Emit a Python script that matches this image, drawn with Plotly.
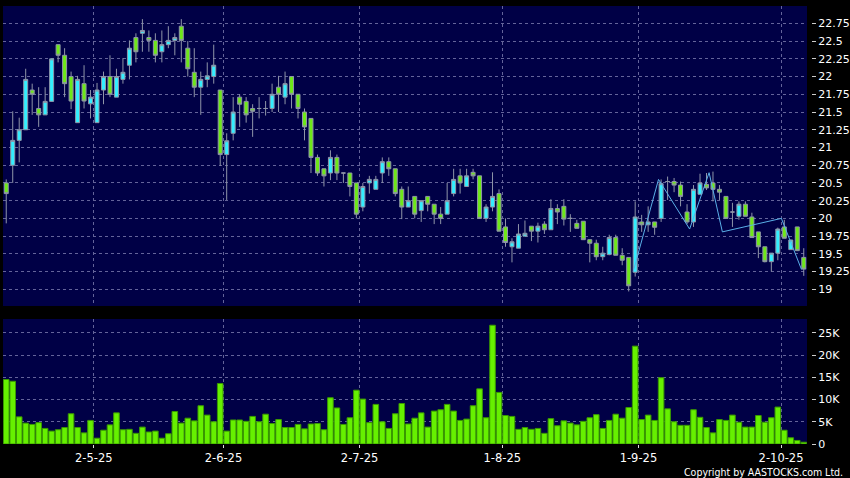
import plotly.graph_objects as go

# ---- data ----
opens = [20.50, 20.75, 21.10, 21.25, 21.81, 21.55, 21.46, 21.65, 22.45, 22.30,
         22.00, 21.35, 21.90, 21.615, 21.35, 21.81, 22.00, 21.71, 21.96, 22.16,
         22.55, 22.61, 22.55, 22.51, 22.35, 22.45, 22.51, 22.71, 22.40, 22.06,
         21.85, 21.96, 22.00, 21.81, 20.90, 21.20, 21.71, 21.65, 21.55, 21.55,
         21.55, 21.55, 21.85, 21.71, 22.00, 21.75, 21.50, 21.41, 20.86, 20.70,
         20.64, 20.86, 20.64, 20.64, 20.50, 20.16, 20.50, 20.41, 20.64, 20.80,
         20.70, 20.41, 20.16, 20.31, 20.11, 20.31, 20.20, 20.06, 20.06, 20.35,
         20.60, 20.45, 20.65, 20.60, 20.00, 20.16, 20.35, 19.88, 19.60, 19.58,
         19.75, 19.89, 19.82, 19.92, 19.84, 20.14, 20.17, 20.00, 19.93, 19.96,
         19.70, 19.65, 19.46, 19.49, 19.73, 19.48, 19.45, 19.24, 19.95, 19.91,
         19.95, 20.00, 20.52, 20.52, 20.47, 20.09, 19.95, 20.34, 20.48, 20.50,
         20.41, 20.31, 20.09, 20.03, 20.20, 20.02, 19.81, 19.60, 19.39, 19.51,
         19.88, 19.56, 19.88, 19.45]
highs = [20.55, 21.51, 21.42, 22.11, 21.90, 21.85, 21.85, 22.25, 22.45, 22.40,
         22.07, 22.01, 22.16, 21.81, 21.91, 22.07, 22.30, 22.11, 22.26, 22.51,
         22.61, 22.81, 22.65, 22.61, 22.65, 22.71, 22.61, 22.81, 22.50, 22.40,
         22.07, 22.20, 22.45, 21.81, 21.20, 21.71, 21.75, 21.71, 21.61, 21.71,
         21.655, 21.90, 22.01, 22.07, 22.00, 21.75, 21.55, 21.41, 20.90, 20.70,
         20.96, 20.90, 20.64, 20.64, 20.50, 20.50, 20.60, 20.60, 20.86, 20.86,
         20.70, 20.45, 20.45, 20.31, 20.25, 20.31, 20.20, 20.16, 20.50, 20.70,
         20.70, 20.70, 20.70, 20.60, 20.20, 20.65, 20.41, 20.00, 19.72, 19.92,
         19.97, 19.89, 19.94, 19.96, 20.27, 20.20, 20.27, 20.06, 19.98, 19.96,
         19.70, 19.70, 19.60, 19.77, 19.77, 19.58, 19.45, 20.24, 20.05, 20.17,
         19.95, 20.55, 20.59, 20.57, 20.52, 20.20, 20.47, 20.63, 20.64, 20.66,
         20.47, 20.31, 20.22, 20.24, 20.24, 20.08, 19.81, 19.60, 19.51, 19.87,
         19.98, 19.70, 19.88, 19.58]
lows = [19.93, 20.50, 20.79, 21.25, 21.46, 21.29, 21.46, 21.65, 22.20, 21.71,
        21.54, 21.35, 21.55, 21.41, 21.35, 21.61, 21.71, 21.71, 21.90, 21.96,
        22.20, 22.35, 22.35, 22.20, 22.20, 22.40, 22.30, 22.20, 22.00, 21.71,
        21.46, 21.85, 21.90, 20.74, 20.26, 21.10, 21.29, 21.35, 21.15, 21.41,
        21.45, 21.50, 21.50, 21.61, 21.55, 21.41, 21.10, 20.64, 20.60, 20.45,
        20.54, 20.54, 20.50, 20.31, 20.00, 20.10, 20.35, 20.41, 20.50, 20.60,
        20.31, 19.99, 20.16, 20.00, 19.95, 20.10, 19.92, 19.92, 20.06, 20.31,
        20.35, 20.45, 20.55, 20.00, 19.95, 20.10, 19.82, 19.60, 19.38, 19.58,
        19.75, 19.68, 19.66, 19.78, 19.84, 19.92, 19.90, 19.81, 19.86, 19.70,
        19.38, 19.41, 19.41, 19.48, 19.48, 19.34, 18.97, 19.18, 19.81, 19.81,
        19.77, 19.95, 20.26, 20.37, 20.17, 19.92, 19.88, 20.34, 20.40, 20.24,
        20.26, 20.00, 19.88, 19.98, 20.03, 19.73, 19.44, 19.38, 19.25, 19.41,
        19.72, 19.56, 19.54, 19.19]
closes = [20.35, 21.10, 21.25, 21.96, 21.75, 21.46, 21.65, 22.25, 22.30, 21.90,
          21.655, 21.96, 21.655, 21.71, 21.81, 22.00, 21.75, 22.00, 22.06, 22.40,
          22.35, 22.65, 22.51, 22.30, 22.45, 22.51, 22.55, 22.51, 22.11, 21.85,
          21.96, 22.01, 22.16, 20.90, 21.095, 21.50, 21.61, 21.46, 21.51, 21.55,
          21.55, 21.75, 21.75, 21.90, 21.75, 21.55, 21.29, 20.86, 20.64, 20.60,
          20.86, 20.64, 20.64, 20.45, 20.06, 20.45, 20.55, 20.55, 20.80, 20.70,
          20.35, 20.16, 20.25, 20.06, 20.25, 20.20, 20.06, 20.00, 20.25, 20.55,
          20.50, 20.60, 20.60, 20.00, 20.16, 20.31, 19.82, 19.66, 19.67, 19.78,
          19.79, 19.82, 19.89, 19.84, 20.14, 20.09, 19.99, 20.00, 19.86, 19.70,
          19.65, 19.46, 19.51, 19.73, 19.48, 19.41, 19.05, 20.02, 19.91, 19.95,
          19.875, 20.49, 20.52, 20.47, 20.31, 19.95, 20.41, 20.50, 20.43, 20.41,
          20.37, 20.00, 20.09, 20.20, 20.03, 19.73, 19.60, 19.39, 19.51, 19.85,
          19.72, 19.695, 19.545, 19.285]
volumes = [14500, 14100, 6100, 4700, 4400, 4800, 3500, 2900, 3200, 3700,
           6800, 3700, 2500, 5300, 1300, 3100, 4300, 7000, 3200, 3300,
           2400, 3800, 2700, 2900, 1300, 2300, 7300, 4700, 5800, 5200,
           8600, 6500, 5000, 13600, 2900, 5400, 5400, 5100, 6200, 5000,
           6700, 4600, 5500, 3700, 3700, 4400, 3400, 4500, 4600, 3200,
           10400, 8100, 4400, 5900, 12100, 10100, 4800, 8900, 5000, 3500,
           6800, 9100, 4500, 5800, 7000, 3800, 7400, 7700, 8900, 7400,
           5300, 5600, 8600, 12400, 5900, 26700, 11600, 6400, 6200, 3300,
           3700, 3300, 3500, 2400, 5700, 4100, 5200, 4700, 4300, 5100,
           5900, 6600, 3500, 5300, 6700, 5800, 8200, 22000, 5500, 6500,
           5300, 14900, 7900, 5000, 4200, 4200, 7700, 6000, 3700, 2500,
           5500, 5300, 6500, 4900, 3800, 3800, 6400, 4900, 5900, 8300,
           3100, 1400, 800, 400]

# zig-zag indicator line (fractional bar positions, price)
zz_x = [96.7, 100.6, 105.4, 108.4, 110.45, 119.55, 122.65]
zz_y = [19.25, 20.55, 19.85, 20.645, 19.81, 20.00, 19.28]

# axis ticks
month_first_bar = [14, 34, 55, 77, 98, 120]
month_labels = ['2-5-25', '2-6-25', '2-7-25', '1-8-25', '1-9-25', '2-10-25']
price_ticks = [19, 19.25, 19.5, 19.75, 20, 20.25, 20.5, 20.75,
               21, 21.25, 21.5, 21.75, 22, 22.25, 22.5, 22.75]
vol_ticks = [0, 5000, 10000, 15000, 20000, 25000]
vol_tick_labels = ['0', '5K', '10K', '15K', '20K', '25K']

# ---- styling ----
bars = list(range(len(opens)))
grid_pos = [b - 0.5 for b in month_first_bar]
NAVY = '#000046'
GRID = '#64649a'
FONT = dict(family='DejaVu Sans', size=11, color='#ffffff')
DATE_FONT = dict(family='DejaVu Sans', size=11.5, color='#ffffff')

fig = go.Figure()
fig.add_trace(go.Candlestick(
    x=bars, open=opens, high=highs, low=lows, close=closes,
    increasing=dict(fillcolor='#33eeff', line=dict(color='#8f95a8', width=1)),
    decreasing=dict(fillcolor='#6ee818', line=dict(color='#8f95a8', width=1)),
    whiskerwidth=0, xaxis='x', yaxis='y', showlegend=False, hoverinfo='skip'))
fig.add_trace(go.Scatter(
    x=zz_x, y=zz_y, mode='lines', line=dict(color='#5ab0e8', width=1),
    xaxis='x', yaxis='y', showlegend=False, hoverinfo='skip'))
fig.add_trace(go.Bar(
    x=bars, y=volumes, width=0.86,
    marker=dict(color='#66f000', line=dict(color='#3a9a00', width=1)),
    xaxis='x2', yaxis='y2', showlegend=False, hoverinfo='skip'))

xr = [-0.5, len(opens) - 0.5]
common_x = dict(range=xr, showline=False, zeroline=False,
                showgrid=True, gridcolor=GRID, gridwidth=1, griddash='3px,3px',
                tickmode='array', tickvals=grid_pos)

fig.update_layout(
    width=850, height=478,
    paper_bgcolor='#000000', plot_bgcolor=NAVY,
    margin=dict(l=3, r=43, t=6, b=34, autoexpand=False),
    font=FONT, boxgap=0.12,
    xaxis=dict(**common_x, domain=[0, 1], anchor='y', showticklabels=False,
               ticks='', rangeslider=dict(visible=False)),
    xaxis2=dict(**common_x, domain=[0, 1], anchor='y2', matches='x',
                ticktext=month_labels, ticks='outside', ticklen=3,
                tickcolor='#dddddd', tickfont=DATE_FONT),
    yaxis=dict(domain=[0.3151, 1], range=[18.765, 22.995], side='right',
               anchor='free', position=1, shift=4,
               tickmode='array', tickvals=price_ticks,
               ticktext=[f'{v:g}' for v in price_ticks],
               ticks='outside', ticklen=4, tickcolor='#cccccc',
               showgrid=True, gridcolor=GRID, griddash='3px,3px',
               zeroline=False, showline=False, tickfont=FONT),
    yaxis2=dict(domain=[0, 0.2854], range=[0, 28100], side='right',
                anchor='free', position=1, shift=4,
                tickmode='array', tickvals=vol_ticks, ticktext=vol_tick_labels,
                ticks='outside', ticklen=4, tickcolor='#cccccc',
                showgrid=True, gridcolor=GRID, griddash='3px,3px',
                zeroline=False, showline=False, tickfont=FONT),
    annotations=[dict(text='Copyright by AASTOCKS.com Ltd.', xref='paper',
                      yref='paper', x=1.0478, y=-0.0635, xanchor='right',
                      yanchor='middle', showarrow=False,
                      font=dict(family='DejaVu Sans Condensed, DejaVu Sans',
                                size=10.5, color='#ffffff'))],
)

fig.write_html('out.html', config={'displayModeBar': False},
               post_script="document.body.style.margin='0';")
